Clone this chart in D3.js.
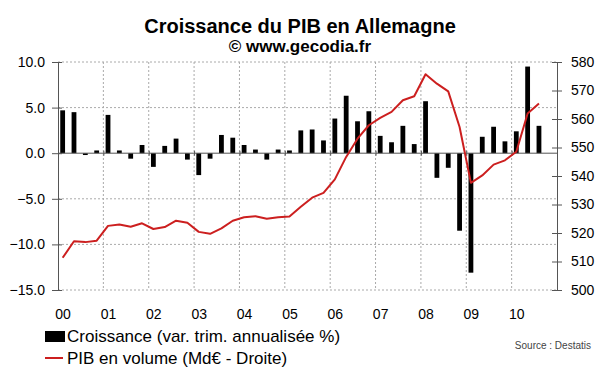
<!DOCTYPE html>
<html>
<head>
<meta charset="utf-8">
<script src="https://cdn.jsdelivr.net/npm/d3@7"></script>
<style>
  body { margin: 0; background: #fff; }
  text { font-family: "Liberation Sans", Arial, sans-serif; }
</style>
</head>
<body>
<script>
// data: quarterly, 2000 Q1 -> 2010 Q3
const years = ["00", "01", "02", "03", "04", "05", "06", "07", "08", "09", "10"]
const croissance = [
  4.7, 4.5, -0.2, 0.3,
  4.2, 0.3, -0.6, 0.9,
  -1.5, 0.8, 1.6, -0.7,
  -2.4, -0.6, 2.0, 1.7,
  0.9, 0.4, -0.7, 0.4,
  0.3, 2.5, 2.6, 1.4,
  3.8, 6.3, 3.5, 4.6,
  1.9, 1.2, 3.0, 1.0,
  5.7, -2.7, -1.6, -8.5,
  -13.1, 1.8, 2.9, 1.3,
  2.4, 9.5, 3.0,
]
const pibVolume = [
  511.3, 517.1, 516.8, 517.3,
  522.5, 523.0, 522.2, 523.4,
  521.4, 522.1, 524.3, 523.6,
  520.4, 519.7, 521.6, 524.3,
  525.5, 525.9, 525.0, 525.5,
  525.8, 529.2, 532.4, 534.1,
  538.8, 546.7, 553.1, 557.8,
  560.4, 562.5, 566.6, 568.0,
  575.7, 572.4, 569.7, 557.2,
  537.6, 540.2, 544.0, 545.5,
  548.5, 561.9, 565.4,
]
const leftTicks = [10, 5, 0, -5, -10, -15]
const rightTicks = [580, 570, 560, 550, 540, 530, 520, 510, 500]

function drawChart() {
  const dimensions = {
    width: 600,
    height: 372,
    margin: { top: 62, right: 43, bottom: 82, left: 58 },
  }
  dimensions.boundedWidth = dimensions.width - dimensions.margin.left - dimensions.margin.right
  dimensions.boundedHeight = dimensions.height - dimensions.margin.top - dimensions.margin.bottom

  const wrapper = d3.select("body")
    .append("svg")
      .attr("width", dimensions.width)
      .attr("height", dimensions.height)

  // titles
  wrapper.append("text")
      .attr("x", 300)
      .attr("y", 33)
      .attr("text-anchor", "middle")
      .style("font-size", "20px")
      .style("font-weight", "bold")
      .text("Croissance du PIB en Allemagne")
  wrapper.append("text")
      .attr("x", 300)
      .attr("y", 52)
      .attr("text-anchor", "middle")
      .style("font-size", "17px")
      .style("font-weight", "bold")
      .text("© www.gecodia.fr")

  const bounds = wrapper.append("g")
      .attr("transform", `translate(${dimensions.margin.left}, ${dimensions.margin.top})`)

  // scales
  const nQuarters = years.length * 4
  const xScale = d3.scaleLinear()
    .domain([0, nQuarters])
    .range([0, dimensions.boundedWidth])
  const yScale = d3.scaleLinear()
    .domain([-15, 10])
    .range([dimensions.boundedHeight, 0])
  const y2Scale = d3.scaleLinear()
    .domain([500, 580])
    .range([dimensions.boundedHeight, 0])

  // grid
  bounds.append("g")
    .selectAll("line")
    .data(leftTicks.filter(d => d != 0))
    .join("line")
      .attr("x1", 0)
      .attr("x2", dimensions.boundedWidth)
      .attr("y1", d => yScale(d))
      .attr("y2", d => yScale(d))
      .attr("stroke", "#aaa")
      .attr("stroke-dasharray", "2,2")
  bounds.append("g")
    .selectAll("line")
    .data(d3.range(1, years.length))
    .join("line")
      .attr("x1", d => xScale(d * 4))
      .attr("x2", d => xScale(d * 4))
      .attr("y1", 0)
      .attr("y2", dimensions.boundedHeight)
      .attr("stroke", "#aaa")
      .attr("stroke-dasharray", "2,2")

  // bars
  const barWidth = 4.8
  bounds.append("g")
    .selectAll("rect")
    .data(croissance)
    .join("rect")
      .attr("x", (d, i) => xScale(i + 0.41) - barWidth / 2)
      .attr("y", d => yScale(Math.max(0, d)))
      .attr("width", barWidth)
      .attr("height", d => Math.abs(yScale(d) - yScale(0)))
      .attr("fill", "#000")

  // zero axis
  const xAxisGenerator = d3.axisBottom(xScale)
    .tickValues(d3.range(0, nQuarters + 1, 4))
    .tickSize(5)
    .tickSizeOuter(0)
    .tickFormat("")
  bounds.append("g")
      .attr("transform", `translate(0, ${yScale(0) - 2.5})`)
      .call(xAxisGenerator)
      .call(g => g.select(".domain").remove())
      .call(g => g.selectAll(".tick line").attr("stroke", "#555"))
  bounds.append("line")
      .attr("x1", 0)
      .attr("x2", dimensions.boundedWidth)
      .attr("y1", yScale(0))
      .attr("y2", yScale(0))
      .attr("stroke", "#555")

  // year labels
  bounds.append("g")
    .selectAll("text")
    .data(years)
    .join("text")
      .attr("x", (d, i) => xScale(i * 4 + 0.45))
      .attr("y", dimensions.boundedHeight + 29)
      .attr("text-anchor", "middle")
      .style("font-size", "14px")
      .text(d => d)

  // line
  const lineGenerator = d3.line()
    .x((d, i) => xScale(i + 0.41))
    .y(d => y2Scale(d))
  bounds.append("path")
      .datum(pibVolume)
      .attr("d", lineGenerator)
      .attr("fill", "none")
      .attr("stroke", "#cc1f1f")
      .attr("stroke-width", 2)
      .attr("stroke-linejoin", "round")

  // left axis
  const yAxisGenerator = d3.axisLeft(yScale)
    .tickValues(leftTicks)
    .tickSize(5)
    .tickSizeOuter(0)
    .tickFormat(d3.format(".1f"))
  const yAxis = bounds.append("g")
      .call(yAxisGenerator)
  yAxis.select(".domain").attr("stroke", "#555")
  yAxis.selectAll(".tick line").attr("x2", 4).attr("x1", -6).attr("stroke", "#555")
  yAxis.selectAll(".tick text")
      .attr("x", -13)
      .style("font-size", "14px")
      .style("font-family", "'Liberation Sans', Arial, sans-serif")
      .attr("fill", "#000")

  // right axis
  const y2AxisGenerator = d3.axisRight(y2Scale)
    .tickValues(rightTicks)
    .tickSize(5)
    .tickSizeOuter(0)
  const y2Axis = bounds.append("g")
      .attr("transform", `translate(${dimensions.boundedWidth}, 0)`)
      .call(y2AxisGenerator)
  y2Axis.select(".domain").attr("stroke", "#555")
  y2Axis.selectAll(".tick line").attr("x1", -5).attr("x2", 5).attr("stroke", "#555")
  y2Axis.selectAll(".tick text")
      .attr("x", 14)
      .style("font-size", "14px")
      .style("font-family", "'Liberation Sans', Arial, sans-serif")
      .attr("fill", "#000")

  // legend
  const legend = wrapper.append("g")
  legend.append("rect")
      .attr("x", 45)
      .attr("y", 331)
      .attr("width", 20)
      .attr("height", 11)
      .attr("fill", "#000")
  legend.append("text")
      .attr("x", 67)
      .attr("y", 342)
      .style("font-size", "17px")
      .text("Croissance (var. trim. annualisée %)")
  legend.append("line")
      .attr("x1", 45)
      .attr("x2", 63)
      .attr("y1", 358)
      .attr("y2", 358)
      .attr("stroke", "#cc1f1f")
      .attr("stroke-width", 2)
  legend.append("text")
      .attr("x", 67)
      .attr("y", 364)
      .style("font-size", "17px")
      .text("PIB en volume (Md€ - Droite)")
  legend.append("text")
      .attr("x", 591)
      .attr("y", 349)
      .attr("text-anchor", "end")
      .attr("fill", "#444")
      .style("font-size", "10px")
      .text("Source : Destatis")
}
drawChart()
</script>
</body>
</html>
